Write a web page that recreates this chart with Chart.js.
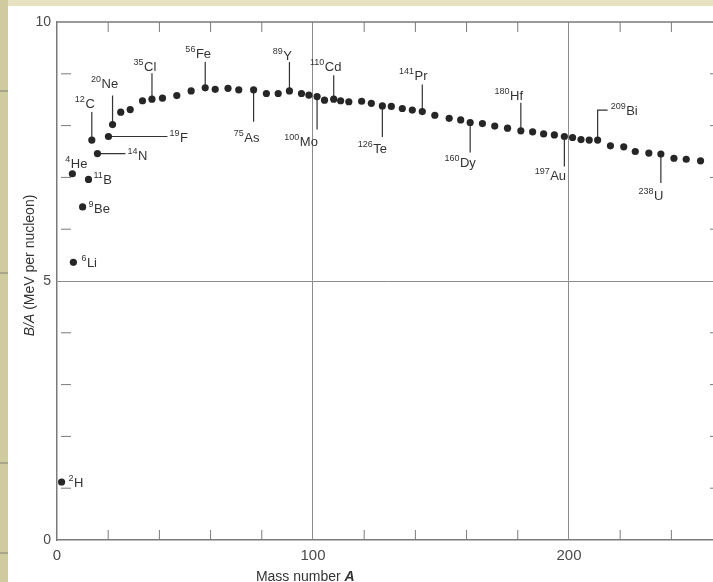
<!DOCTYPE html>
<html>
<head>
<meta charset="utf-8">
<script src="https://cdn.jsdelivr.net/npm/chart.js@4"></script>
<style>
  html, body { margin: 0; padding: 0; width: 713px; height: 582px; overflow: hidden; background: #ffffff; }
  #wrap { position: relative; width: 713px; height: 582px; overflow: hidden; }
  canvas { display: block; }
</style>
</head>
<body>
<div id="wrap"><canvas id="c" width="740" height="582"></canvas></div>
<script>
// ---- data ----
const massNumber = [
  1.8, 6.0, 6.4, 10.0, 12.3, 13.6, 15.8, 20.1, 21.7, 24.9,
  28.6, 33.4, 37.1, 41.2, 46.8, 52.4, 57.9, 61.8, 66.8, 71.0,
  76.8, 81.8, 86.4, 90.8, 95.5, 98.4, 101.6, 104.5, 108.1, 110.8,
  114.0, 119.0, 122.8, 127.1, 130.6, 134.9, 138.8, 142.7, 147.6, 153.2,
  157.7, 161.4, 166.2, 171.0, 176.0, 181.2, 185.8, 190.1, 194.3, 198.2,
  201.4, 204.7, 207.9, 211.2, 216.2, 221.4, 225.9, 231.2, 235.9, 241.0,
  245.8, 251.4
];
const bindingPerNucleon = [
  1.12, 7.07, 5.36, 6.43, 6.96, 7.72, 7.46, 7.79, 8.02, 8.26,
  8.31, 8.48, 8.51, 8.53, 8.58, 8.67, 8.73, 8.70, 8.72, 8.69,
  8.69, 8.62, 8.62, 8.67, 8.62, 8.59, 8.56, 8.49, 8.51, 8.48,
  8.46, 8.47, 8.43, 8.38, 8.37, 8.33, 8.30, 8.27, 8.20, 8.14,
  8.11, 8.06, 8.04, 7.99, 7.95, 7.90, 7.88, 7.84, 7.82, 7.79,
  7.77, 7.73, 7.72, 7.72, 7.61, 7.59, 7.50, 7.47, 7.45, 7.37,
  7.35, 7.32
];
// nuclide labels: point index, mass-number superscript, element symbol
const labelPointIndex = [0, 1, 2, 3, 4, 5, 6, 7, 8, 12, 16, 20, 23, 26, 28, 33, 37, 41, 45, 49, 53, 58];
const labelMass       = ['2','4','6','9','11','12','14','19','20','35','56','75','89','100','110','126','141','160','180','197','209','238'];
const labelSymbol     = ['H','He','Li','Be','B','C','N','F','Ne','Cl','Fe','As','Y','Mo','Cd','Te','Pr','Dy','Hf','Au','Bi','U'];
// tick labels
const xTickLabels = [0, 100, 200];
const yTickLabels = [0, 5, 10];
const xGridValues = [100, 200];
const yGridValues = [5];
const xTitle = 'Mass number ';
const xTitleItalic = 'A';
const yTitleItalic = 'B/A';
const yTitle = ' (MeV per nucleon)';

// ---- layout of the annotations (pixel offsets from each labelled point) ----
const labelLayout = [
  {mode:'right', tx:7,  ty:0},                 // 2H
  {mode:'free',  tx:-7, ty:-11, align:'left'}, // 4He
  {mode:'right', tx:8,  ty:0},                 // 6Li
  {mode:'right', tx:6,  ty:1},                 // 9Be
  {mode:'right', tx:5,  ty:0},                 // 11B
  {mode:'v', ly:-28, tx:-7,  ty:-37},          // 12C
  {mode:'h', lx:28, tx:30, ty:1},              // 14N
  {mode:'h', lx:59, tx:61, ty:1},              // 19F
  {mode:'v', ly:-29, tx:-8,  ty:-42},          // 20Ne
  {mode:'v', ly:-26, tx:-7,  ty:-33},          // 35Cl
  {mode:'v', ly:-26, tx:-7,  ty:-35},          // 56Fe
  {mode:'v', ly:32,  tx:-7,  ty:47},           // 75As
  {mode:'v', ly:-29, tx:-7,  ty:-36},          // 89Y
  {mode:'v', ly:33,  tx:-16, ty:44},           // 100Mo
  {mode:'v', ly:-24, tx:-8,  ty:-33},          // 110Cd
  {mode:'v', ly:31,  tx:-10, ty:42},           // 126Te
  {mode:'v', ly:-27, tx:-9,  ty:-37},          // 141Pr
  {mode:'v', ly:30,  tx:-10, ty:40},           // 160Dy
  {mode:'v', ly:-28, tx:-12, ty:-36},          // 180Hf
  {mode:'v', ly:30,  tx:-14, ty:39},           // 197Au
  {mode:'bend', ly:-30, lx:10, tx:13, ty:-30}, // 209Bi
  {mode:'v', ly:29,  tx:-10, ty:41}            // 238U
];

const INK = '#262626';
const FRAME = '#7a7a7a';

const pagePlugin = {
  id: 'page',
  beforeDraw(chart) {
    const ctx = chart.ctx;
    ctx.save();
    ctx.fillStyle = '#ffffff';
    ctx.fillRect(0, 0, chart.width, chart.height);
    ctx.fillStyle = '#cfcb9f';
    ctx.fillRect(0, 0, 8, chart.height);
    ctx.fillStyle = '#e6e2c2';
    ctx.fillRect(8, 0, chart.width, 6);
    ctx.fillStyle = '#a9a587';
    [90, 272, 462, 552].forEach(y => ctx.fillRect(0, y, 8, 2));
    ctx.restore();
  }
};

function drawNuclide(ctx, x, y, mass, sym, align) {
  const supFont = '9px "Liberation Sans", Arial, sans-serif';
  const symFont = '13px "Liberation Sans", Arial, sans-serif';
  ctx.font = supFont;
  const w1 = ctx.measureText(mass).width;
  ctx.font = symFont;
  const w2 = ctx.measureText(sym).width;
  let x0 = align === 'left' ? x : x - (w1 + w2 + 0.5) / 2;
  ctx.fillStyle = '#333';
  ctx.textBaseline = 'alphabetic';
  ctx.textAlign = 'left';
  ctx.font = supFont;
  ctx.fillText(mass, x0, y - 1);
  ctx.font = symFont;
  ctx.fillText(sym, x0 + w1 + 0.5, y + 5);
}

const decorPlugin = {
  id: 'decor',
  beforeDatasetsDraw(chart) {
    const ctx = chart.ctx;
    const xs = chart.scales.x, ys = chart.scales.y;
    const a = chart.chartArea;
    ctx.save();
    ctx.strokeStyle = FRAME;
    ctx.lineWidth = 1.5;
    ctx.beginPath();
    ctx.moveTo(a.left, a.top); ctx.lineTo(a.right, a.top); ctx.lineTo(a.right, a.bottom);
    ctx.stroke();
    ctx.lineWidth = 1;
    ctx.beginPath();
    xs.ticks.forEach(t => {
      if (t.value <= 0 || xGridValues.includes(t.value)) return;
      const px = xs.getPixelForValue(t.value);
      ctx.moveTo(px, a.bottom); ctx.lineTo(px, a.bottom - 10);
      ctx.moveTo(px, a.top); ctx.lineTo(px, a.top + 10);
    });
    ys.ticks.forEach(t => {
      if (t.value <= 0 || t.value >= 10 || yGridValues.includes(t.value)) return;
      const py = ys.getPixelForValue(t.value);
      ctx.moveTo(a.left + 4, py); ctx.lineTo(a.left + 14, py);
      ctx.moveTo(a.right, py); ctx.lineTo(a.right - 10, py);
    });
    ctx.stroke();
    ctx.strokeStyle = '#333';
    ctx.lineWidth = 1.2;
    ctx.beginPath();
    labelPointIndex.forEach((pi, k) => {
      const L = labelLayout[k];
      const px = xs.getPixelForValue(massNumber[pi]);
      const py = ys.getPixelForValue(bindingPerNucleon[pi]);
      if (L.mode === 'v') { ctx.moveTo(px, py); ctx.lineTo(px, py + L.ly); }
      if (L.mode === 'h') { ctx.moveTo(px, py); ctx.lineTo(px + L.lx, py); }
      if (L.mode === 'bend') { ctx.moveTo(px, py); ctx.lineTo(px, py + L.ly); ctx.lineTo(px + L.lx, py + L.ly); }
    });
    ctx.stroke();
    ctx.restore();
  },
  afterDraw(chart) {
    const ctx = chart.ctx;
    const xs = chart.scales.x, ys = chart.scales.y;
    ctx.save();
    labelPointIndex.forEach((pi, k) => {
      const L = labelLayout[k];
      const px = xs.getPixelForValue(massNumber[pi]);
      const py = ys.getPixelForValue(bindingPerNucleon[pi]);
      const align = (L.mode === 'right' || L.mode === 'h' || L.mode === 'bend' || L.align === 'left') ? 'left' : 'center';
      drawNuclide(ctx, px + L.tx, py + L.ty, labelMass[k], labelSymbol[k], align);
    });
    ctx.fillStyle = '#333';
    ctx.textBaseline = 'middle';
    ctx.textAlign = 'left';
    const fN = '14px "Liberation Sans", Arial, sans-serif';
    const fI = 'italic bold 14px "Liberation Sans", Arial, sans-serif';
    ctx.font = fN;
    const wa = ctx.measureText(xTitle).width;
    ctx.font = fI;
    const wb = ctx.measureText(xTitleItalic).width;
    const cx = xs.getPixelForValue(97);
    let x0 = cx - (wa + wb) / 2;
    ctx.font = fN; ctx.fillText(xTitle, x0, 577);
    ctx.font = fI; ctx.fillText(xTitleItalic, x0 + wa, 577);
    ctx.translate(30, ys.getPixelForValue(5.3));
    ctx.rotate(-Math.PI / 2);
    const gN = '14px "Liberation Sans", Arial, sans-serif';
    const gI = 'italic 14px "Liberation Sans", Arial, sans-serif';
    ctx.font = gI;
    const w1 = ctx.measureText(yTitleItalic).width;
    ctx.font = gN;
    const w2 = ctx.measureText(yTitle).width;
    const s = -(w1 + w2) / 2;
    ctx.font = gI; ctx.fillText(yTitleItalic, s, 0);
    ctx.font = gN; ctx.fillText(yTitle, s + w1, 0);
    ctx.restore();
  }
};

new Chart(document.getElementById('c'), {
  type: 'scatter',
  data: {
    datasets: [{
      data: massNumber.map((a, i) => ({x: a, y: bindingPerNucleon[i]})),
      backgroundColor: INK,
      borderColor: INK,
      pointRadius: 3.6,
      pointHoverRadius: 3.6,
      borderWidth: 0
    }]
  },
  options: {
    responsive: false,
    animation: false,
    layout: { padding: { top: 22, right: 20, bottom: 0, left: 0 } },
    plugins: { legend: { display: false }, tooltip: { enabled: false } },
    scales: {
      x: {
        type: 'linear', min: 0, max: 259,
        afterFit(scale) { scale.height = 42; },
        ticks: {
          stepSize: 20, autoSkip: false, maxRotation: 0, padding: 7,
          color: '#4a4a4a', font: { family: '"Liberation Sans", Arial, sans-serif', size: 15 },
          callback: v => xTickLabels.includes(v) ? String(v) : ''
        },
        grid: {
          drawTicks: false,
          color: c => (c.tick && xGridValues.includes(c.tick.value)) ? '#8c8c8c' : 'rgba(0,0,0,0)',
          lineWidth: 1
        },
        border: { display: true, color: FRAME, width: 1.5 }
      },
      y: {
        type: 'linear', min: 0, max: 10,
        afterFit(scale) { scale.width = 57; },
        ticks: {
          stepSize: 1, autoSkip: false, padding: 6,
          color: '#4a4a4a', font: { family: '"Liberation Sans", Arial, sans-serif', size: 14 },
          callback: v => yTickLabels.includes(v) ? String(v) : ''
        },
        grid: {
          drawTicks: false,
          color: c => (c.tick && yGridValues.includes(c.tick.value)) ? '#8c8c8c' : 'rgba(0,0,0,0)',
          lineWidth: 1
        },
        border: { display: true, color: FRAME, width: 1.5 }
      }
    }
  },
  plugins: [pagePlugin, decorPlugin]
});
</script>
</body>
</html>
